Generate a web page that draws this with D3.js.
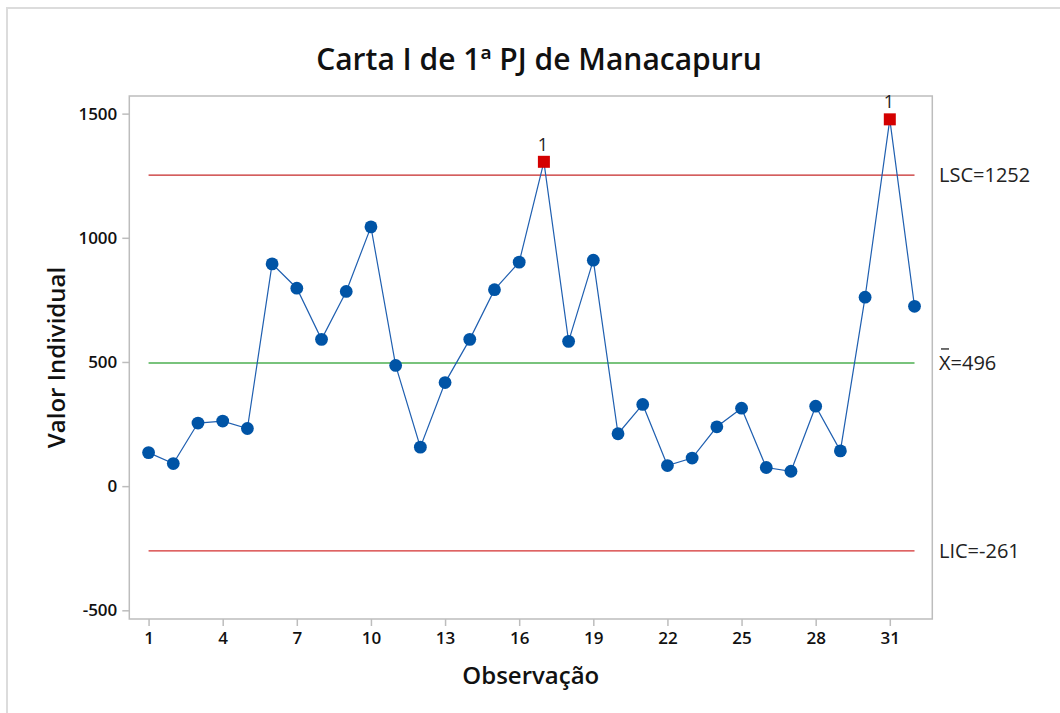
<!DOCTYPE html>
<html>
<head>
<meta charset="utf-8">
<script src="https://cdn.jsdelivr.net/npm/d3@7"></script>
<style>
  body { margin: 0; background: #fff; }
  svg { display: block; font-family: "Open Sans", "Noto Sans", sans-serif; }
</style>
</head>
<body>
<svg id="chart" width="1060" height="713"></svg>
<script>
// observações e valores individuais
const observations = d3.range(1, 33);
const values = [135, 91, 254, 262, 232, 895, 797, 591, 784, 1044, 486, 157, 417, 591, 791, 902,
                1306, 583, 910, 211, 329, 83, 113, 239, 314, 75, 60, 322, 142, 761, 1477, 724];
const xTicks = [1, 4, 7, 10, 13, 16, 19, 22, 25, 28, 31];
const yTicks = [-500, 0, 500, 1000, 1500];
const limitNames = ["LSC", "X", "LIC"];
const limitValues = [1252, 496, -261];

const svg = d3.select("#chart");
const W = 1060, H = 713;
const plot = { left: 129.3, right: 932.3, top: 96, bottom: 619 };

const x = d3.scaleLinear().domain([0.22, 32.72]).range([plot.left, plot.right]);
const y = d3.scaleLinear().domain([-535, 1571]).range([plot.bottom, plot.top]);

const ucl = limitValues[0], lcl = limitValues[2];

// moldura externa
svg.append("path")
  .attr("d", `M${W},8 H7 V${H}`)
  .attr("fill", "none")
  .attr("stroke", "#dcdcdc")
  .attr("stroke-width", 2);

// título
svg.append("text")
  .attr("x", 539).attr("y", 70)
  .attr("text-anchor", "middle")
  .attr("font-size", 30).attr("font-weight", 600)
  .attr("fill", "#111")
  .text("Carta I de 1ª PJ de Manacapuru");

// área do gráfico
svg.append("rect")
  .attr("x", plot.left).attr("y", plot.top)
  .attr("width", plot.right - plot.left).attr("height", plot.bottom - plot.top)
  .attr("fill", "none").attr("stroke", "#bdbdbd").attr("stroke-width", 1.5);

// eixos (hífen comum no sinal negativo, como no original)
const yAxis = svg.append("g")
  .attr("transform", `translate(${plot.left},0)`)
  .call(d3.axisLeft(y).tickValues(yTicks).tickSize(7).tickPadding(5).tickFormat(d => String(d)));
const xAxis = svg.append("g")
  .attr("transform", `translate(0,${plot.bottom})`)
  .call(d3.axisBottom(x).tickValues(xTicks).tickSize(7).tickPadding(6).tickFormat(d => String(d)));

[yAxis, xAxis].forEach(g => {
  g.select(".domain").remove();
  g.selectAll(".tick line").attr("stroke", "#bdbdbd").attr("stroke-width", 1.5);
  g.selectAll(".tick text")
    .attr("font-size", 17).attr("font-weight", 600)
    .attr("fill", "#111")
    .attr("font-family", "'Open Sans', 'Noto Sans', sans-serif");
});

// títulos dos eixos
svg.append("text")
  .attr("transform", `translate(57,${(plot.top + plot.bottom) / 2}) rotate(-90)`)
  .attr("text-anchor", "middle")
  .attr("dy", "0.35em")
  .attr("font-size", 24).attr("font-weight", 600).attr("fill", "#111")
  .text("Valor Individual");

svg.append("text")
  .attr("x", (plot.left + plot.right) / 2).attr("y", 684)
  .attr("text-anchor", "middle")
  .attr("font-size", 24).attr("font-weight", 600).attr("fill", "#111")
  .text("Observação");

// linhas de controle
const limitColors = ["#c62828", "#4caf50", "#d32f2f"];
svg.append("g").selectAll("line")
  .data(limitValues)
  .join("line")
  .attr("x1", x(1)).attr("x2", x(observations.length))
  .attr("y1", d => y(d)).attr("y2", d => y(d))
  .attr("stroke", (d, i) => limitColors[i])
  .attr("stroke-width", (d, i) => i === 1 ? 1.6 : 1.2);

const labels = svg.append("g")
  .attr("font-size", 20).attr("fill", "#222");
limitValues.forEach((v, i) => {
  const t = labels.append("text")
    .attr("x", 939).attr("y", y(v))
    .attr("dy", "0.35em");
  if (i === 1) {
    t.text(`X=${v}`);
    // barra sobre o X
    labels.append("line")
      .attr("x1", 941).attr("x2", 949)
      .attr("y1", y(v) - 14).attr("y2", y(v) - 14)
      .attr("stroke", "#222").attr("stroke-width", 1.3);
  } else {
    t.text(`${limitNames[i]}=${v}`);
  }
});

// linha dos dados
const pts = observations.map((o, i) => ({ obs: o, val: values[i] }));
svg.append("path")
  .datum(pts)
  .attr("fill", "none")
  .attr("stroke", "#1f5fb0")
  .attr("stroke-width", 1.2)
  .attr("d", d3.line().x(d => x(d.obs)).y(d => y(d.val)));

const inCtrl = pts.filter(d => d.val <= ucl && d.val >= lcl);
const outCtrl = pts.filter(d => d.val > ucl || d.val < lcl);

svg.append("g").selectAll("circle")
  .data(inCtrl)
  .join("circle")
  .attr("cx", d => x(d.obs)).attr("cy", d => y(d.val))
  .attr("r", 6.4)
  .attr("fill", "#0054a6");

const sq = 12;
svg.append("g").selectAll("rect")
  .data(outCtrl)
  .join("rect")
  .attr("x", d => x(d.obs) - sq / 2).attr("y", d => y(d.val) - sq / 2)
  .attr("width", sq).attr("height", sq)
  .attr("fill", "#d40000");

svg.append("g").selectAll("text")
  .data(outCtrl)
  .join("text")
  .attr("x", d => x(d.obs) - 1).attr("y", d => y(d.val) - 11)
  .attr("text-anchor", "middle")
  .attr("font-size", 18).attr("fill", "#222")
  .text("1");
</script>
</body>
</html>
